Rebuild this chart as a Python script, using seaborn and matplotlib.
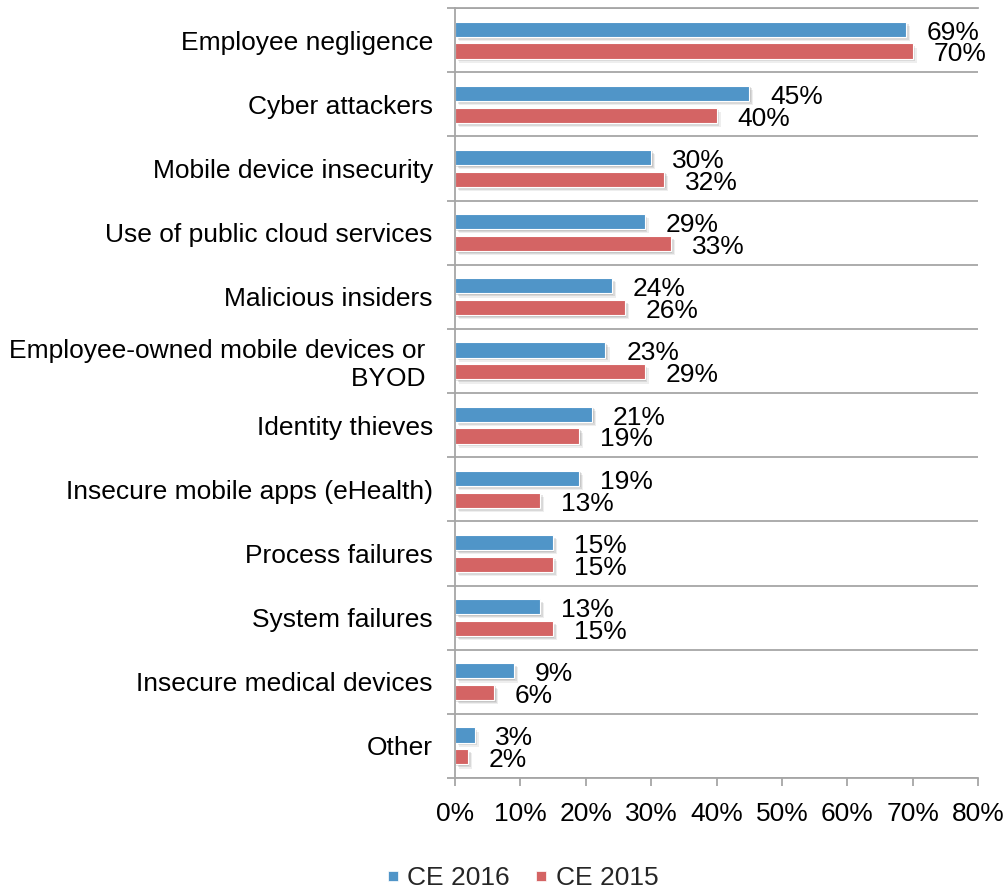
import pandas as pd
import seaborn as sns
import matplotlib.pyplot as plt
from matplotlib import patheffects as pe
from matplotlib.lines import Line2D
from matplotlib.ticker import FixedLocator, FuncFormatter

# Threats of most concern, share of respondents (%)
categories = [
    "Employee negligence",
    "Cyber attackers",
    "Mobile device insecurity",
    "Use of public cloud services",
    "Malicious insiders",
    "Employee-owned mobile devices or \nBYOD ",
    "Identity thieves",
    "Insecure mobile apps (eHealth)",
    "Process failures",
    "System failures",
    "Insecure medical devices",
    "Other",
]
ce_2016 = [69, 45, 30, 29, 24, 23, 21, 19, 15, 13, 9, 3]
ce_2015 = [70, 40, 32, 33, 26, 29, 19, 13, 15, 15, 6, 2]
series_names = ["CE 2016", "CE 2015"]
x_ticks = [0, 10, 20, 30, 40, 50, 60, 70, 80]

colors = {"CE 2016": "#5095C8", "CE 2015": "#D46464"}
grid_gray = "#a6a6a6"
fs = 19.0

df = pd.DataFrame({
    "category": categories * 2,
    "series": [series_names[0]] * len(categories) + [series_names[1]] * len(categories),
    "value": ce_2016 + ce_2015,
})

sns.set_theme(style="white")
plt.rcParams["font.family"] = ["Liberation Sans", "DejaVu Sans"]

fig = plt.figure(figsize=(10.08, 8.9), dpi=100)
ax = fig.add_axes([455 / 1008, 1 - 778 / 890, (978 - 455) / 1008, (778 - 8) / 890])

sns.barplot(
    data=df, y="category", x="value", hue="series",
    order=categories, hue_order=series_names, palette=colors,
    orient="h", width=0.68, gap=0.3, saturation=1,
    edgecolor="white", linewidth=0.8, errorbar=None, legend=False, ax=ax,
)

# soft drop shadow under every bar
shadow = [
    pe.SimplePatchShadow(offset=(3, -3), shadow_rgbFace="#777777", alpha=0.12),
    pe.SimplePatchShadow(offset=(2, -2), shadow_rgbFace="#777777", alpha=0.18),
    pe.SimplePatchShadow(offset=(1, -1), shadow_rgbFace="#777777", alpha=0.2),
    pe.Normal(),
]
for p in ax.patches:
    p.set_path_effects(shadow)

# value labels at bar ends
for cont, vals in zip(ax.containers, [ce_2016, ce_2015]):
    anns = ax.bar_label(cont, labels=[f"{v}%" for v in vals], padding=15,
                        fontsize=fs, color="black")
    for a in anns:
        a.xyann = (15, -2.5)

# axes styling
ax.set_xlim(0, 80)
ax.set_ylim(len(categories) - 0.5, -0.5)
ax.set_xticks(x_ticks)
ax.xaxis.set_major_formatter(FuncFormatter(lambda v, _: f"{v:.0f}%"))
ax.yaxis.set_minor_locator(FixedLocator([i - 0.5 for i in range(len(categories) + 1)]))
ax.yaxis.grid(True, which="minor", color=grid_gray, linewidth=1.3)
ax.yaxis.grid(False, which="major")
ax.xaxis.grid(False)
ax.set_axisbelow(True)

ax.tick_params(axis="x", which="major", bottom=True, length=6, width=1.3,
               color=grid_gray, labelsize=fs, labelcolor="black", pad=11)
ax.tick_params(axis="y", which="major", left=False, length=0,
               labelsize=fs, labelcolor="black", pad=16)
ax.tick_params(axis="y", which="minor", left=True, length=6, width=1.3,
               color=grid_gray)

ax.spines["right"].set_visible(False)
for side in ("left", "bottom", "top"):
    ax.spines[side].set_color(grid_gray)
    ax.spines[side].set_linewidth(1.3)

ax.set_xlabel("")
ax.set_ylabel("")

handles = [
    Line2D([], [], marker="s", linestyle="", markersize=6.5,
           markerfacecolor=colors[s], markeredgecolor="white", markeredgewidth=0.5)
    for s in series_names
]
fig.legend(handles, series_names, loc="center",
           bbox_to_anchor=(523 / 1008, 1 - 878 / 890), ncol=2, frameon=False,
           fontsize=fs, handlelength=0.4, handletextpad=0.35, columnspacing=1.0)

fig.savefig("out.png", dpi=100)
